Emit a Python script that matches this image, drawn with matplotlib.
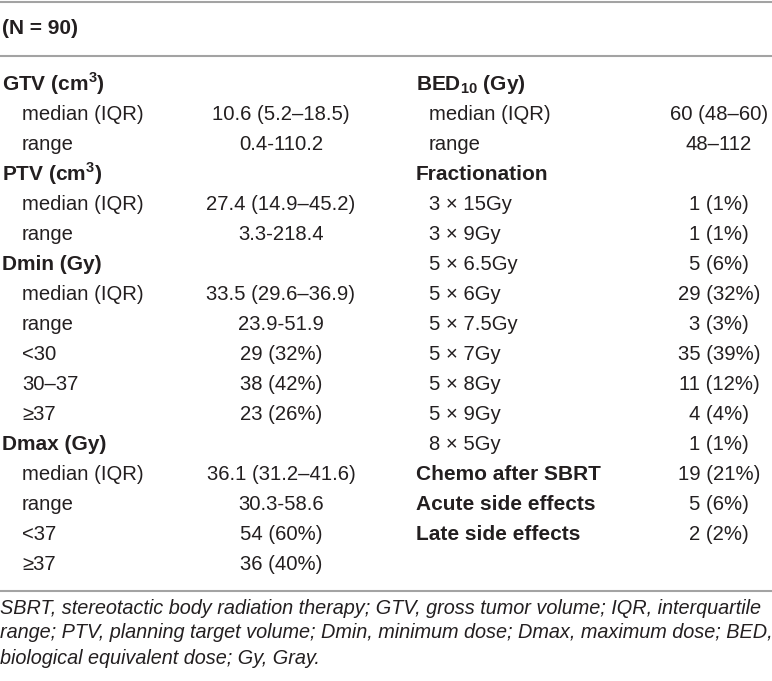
import matplotlib
matplotlib.use("Agg")
import matplotlib.pyplot as plt

plt.rcParams['font.family'] = ['Liberation Sans', 'DejaVu Sans']
plt.rcParams['mathtext.fontset'] = 'custom'
plt.rcParams['mathtext.rm'] = 'Liberation Sans'
plt.rcParams['mathtext.bf'] = 'Liberation Sans:bold'

# table content
header = "(N = 90)"

left_labels = ["GTV (cm$^{\\mathbf{3}}$)", "median (IQR)", "range",
               "PTV (cm$^{\\mathbf{3}}$)", "median (IQR)", "range",
               "Dmin (Gy)", "median (IQR)", "range", "<30", "30\u201337", "\u226537",
               "Dmax (Gy)", "median (IQR)", "range", "<37", "\u226537"]
left_values = ["", "10.6 (5.2\u201318.5)", "0.4-110.2",
               "", "27.4 (14.9\u201345.2)", "3.3-218.4",
               "", "33.5 (29.6\u201336.9)", "23.9-51.9", "29 (32%)", "38 (42%)", "23 (26%)",
               "", "36.1 (31.2\u201341.6)", "30.3-58.6", "54 (60%)", "36 (40%)"]
left_bold = [1, 0, 0, 1, 0, 0, 1, 0, 0, 0, 0, 0, 1, 0, 0, 0, 0]

right_labels = ["BED$_{\\mathbf{10}}$ (Gy)", "median (IQR)", "range", "Fractionation",
                "3 \u00d7 15Gy", "3 \u00d7 9Gy", "5 \u00d7 6.5Gy", "5 \u00d7 6Gy",
                "5 \u00d7 7.5Gy", "5 \u00d7 7Gy", "5 \u00d7 8Gy", "5 \u00d7 9Gy", "8 \u00d7 5Gy",
                "Chemo after SBRT", "Acute side effects", "Late side effects"]
right_values = ["", "60 (48\u201360)", "48\u2013112", "",
                "1 (1%)", "1 (1%)", "5 (6%)", "29 (32%)", "3 (3%)", "35 (39%)",
                "11 (12%)", "4 (4%)", "1 (1%)", "19 (21%)", "5 (6%)", "2 (2%)"]
right_bold = [1, 0, 0, 1, 0, 0, 0, 0, 0, 0, 0, 0, 0, 1, 1, 1]

footnote = ["SBRT, stereotactic body radiation therapy; GTV, gross tumor volume; IQR, interquartile",
            "range; PTV, planning target volume; Dmin, minimum dose; Dmax, maximum dose; BED,",
            "biological equivalent dose; Gy, Gray."]

W, H = 772, 681
fig = plt.figure(figsize=(W / 100, H / 100), dpi=100)
ax = fig.add_axes([0, 0, 1, 1])
ax.set_xlim(0, W)
ax.set_ylim(H, 0)
ax.axis('off')

txt = '#231f20'
line_col = '#a3a3a3'
fs = 14.6
fs_b = 15.0
row0, step = 84, 30.0

for y in [1.5, 56, 591]:
    ax.plot([0, W], [y, y], color=line_col, lw=1.5, solid_capstyle='butt')

ax.text(2, 29, header, fontsize=fs_b, fontweight='bold', color=txt, va='center')


def draw_column(labels, values, bold, x_head, x_sub, x_val):
    for i, (lab, val, b) in enumerate(zip(labels, values, bold)):
        y = row0 + i * step
        if b:
            ax.text(x_head, y, lab, fontsize=fs_b, fontweight='bold', color=txt, va='center')
        else:
            ax.text(x_sub, y, lab, fontsize=fs, color=txt, va='center')
        if val:
            ax.text(x_val, y, val, fontsize=fs, color=txt, va='center', ha='center')


draw_column(left_labels, left_values, left_bold, 2, 22, 281)
draw_column(right_labels, right_values, right_bold, 416, 429, 719)

for i, line in enumerate(footnote):
    ax.text(0, 608 + i * 25, line, fontsize=14.3, style='italic', color=txt, va='center')

fig.savefig('out.png', dpi=100)
